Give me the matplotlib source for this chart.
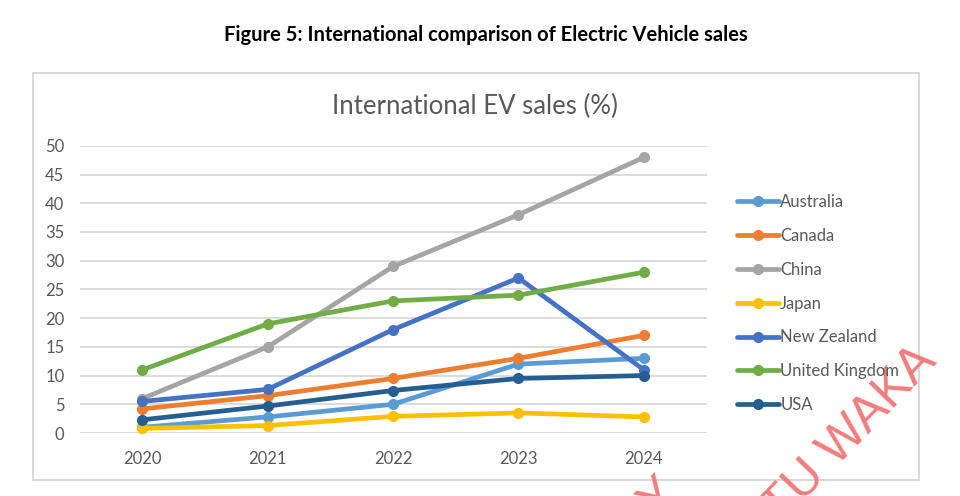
import matplotlib.pyplot as plt
from matplotlib.patches import Rectangle

plt.rcParams['font.family'] = ['Lato', 'DejaVu Sans']

# Datos (% de ventas de vehículos eléctricos)
years = ['2020', '2021', '2022', '2023', '2024']
countries = ['Australia', 'Canada', 'China', 'Japan', 'New Zealand', 'United Kingdom', 'USA']
australia = [1.0, 2.8, 5.0, 12.0, 13.0]
canada = [4.2, 6.5, 9.5, 13.0, 17.0]
china = [6.0, 15.0, 29.0, 38.0, 48.0]
japan = [0.8, 1.3, 2.9, 3.5, 2.8]
new_zealand = [5.5, 7.6, 18.0, 27.0, 11.0]
uk = [11.0, 19.0, 23.0, 24.0, 28.0]
usa = [2.3, 4.7, 7.4, 9.5, 10.0]
series = [australia, canada, china, japan, new_zealand, uk, usa]
colors = ['#5B9BD5', '#ED7D31', '#A5A5A5', '#FFC000', '#4472C4', '#70AD47', '#255E91']

fig = plt.figure(figsize=(9.6, 4.96), dpi=100)

# Título de la figura
fig.text(0.506, 0.929, 'Figure 5: International comparison of Electric Vehicle sales',
         ha='center', va='center', fontsize=14.5, fontweight='bold', color='black')

# Marco del gráfico
fig.patches.append(Rectangle((0.034, 0.032), 0.923, 0.821, transform=fig.transFigure,
                             fill=False, edgecolor='#d9d9d9', linewidth=1.5))

fig.text(0.495, 0.785, 'International EV sales (%)', ha='center', va='center',
         fontsize=18.5, color='#595959')

ax = fig.add_axes([0.083, 0.127, 0.653, 0.579])
x = range(len(years))
for nombre, valores, c in zip(countries, series, colors):
    ax.plot(x, valores, color=c, linewidth=3.4, marker='o', markersize=7,
            label=nombre, solid_capstyle='round', clip_on=False)

ax.set_xlim(-0.5, 4.5)
ax.set_ylim(0, 50)
ax.set_yticks(range(0, 51, 5))
ax.set_xticks(list(x))
ax.set_xticklabels(years)
ax.grid(axis='y', color='#d9d9d9', linewidth=1.3)
ax.set_axisbelow(True)
for s in ax.spines.values():
    s.set_visible(False)
ax.tick_params(length=0, labelsize=12, colors='#595959')
ax.tick_params(axis='x', pad=13)
ax.tick_params(axis='y', pad=11)

leg = fig.legend(loc='upper left', bbox_to_anchor=(0.752, 0.639), frameon=False,
                 fontsize=12, handlelength=2.5, handletextpad=0.1, labelspacing=1.07)
for t in leg.get_texts():
    t.set_color('#595959')

# Marca de agua (solo se ve una parte)
fig.text(0.977, 0.270, 'TU WAKA', rotation=46, fontsize=36, color='#f37575',
         family='Liberation Sans', ha='right', va='baseline', alpha=0.95,
         rotation_mode='anchor')
fig.text(0.71, 0.002, 'RELEASED BY', rotation=46, fontsize=36, color='#f37575',
         family='Liberation Sans', ha='right', va='baseline', alpha=0.95,
         rotation_mode='anchor')

fig.savefig('out.png', dpi=100)
